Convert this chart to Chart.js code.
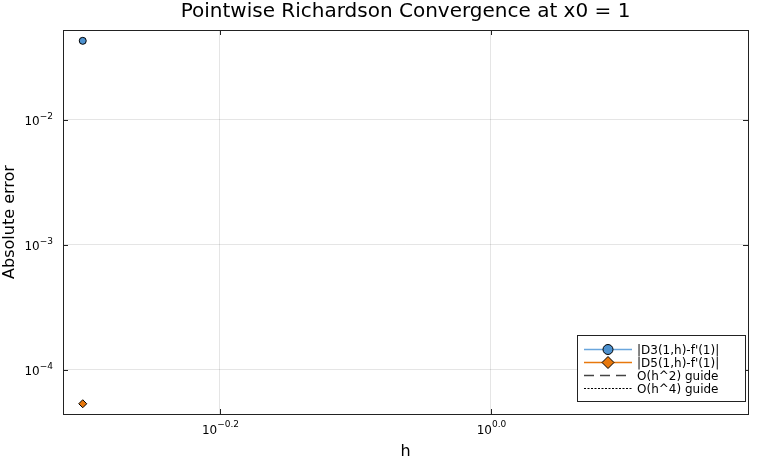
<!DOCTYPE html>
<html>
<head>
<meta charset="utf-8">
<script src="https://cdn.jsdelivr.net/npm/chart.js@4.4.1/dist/chart.umd.min.js"></script>
<style>
  html, body { margin: 0; padding: 0; background: #fff; }
  #wrap { width: 760px; height: 460px; }
</style>
</head>
<body>
<div id="wrap"><canvas id="c" width="760" height="460"></canvas></div>
<script>
// 數據
const hValues = [0.5];
const errD3 = [0.0426];
const errD5 = [5.35e-5];
const guide2 = [];   // O(h^2) 參考線（圖中看不到）
const guide4 = [];   // O(h^4) 參考線

const seriesNames = ["|D3(1,h)-f'(1)|", "|D5(1,h)-f'(1)|", 'O(h^2) guide', 'O(h^4) guide'];

// 刻度
const xTickExps = [-0.2, 0.0];
const xTickLabels = ['-0.2', '0.0'];
const yTickExps = [-2, -3, -4];
const yTickLabels = ['-2', '-3', '-4'];

const xRange = [0.4835, 1.549];
const yRange = [4.43e-5, 0.052];

const FONT = "'DejaVu Sans', sans-serif";
const BLUE = '#4d91cf';
const BLUE_LINE = '#6aa6dd';
const ORANGE = '#e8780c';

function toPoints(xs, ys) {
    return ys.map((y, i) => ({ x: xs[i], y: y }));
}

// 畫 10^n 的標籤
function drawPow(ctx, exp, x, y, align) {
    ctx.font = '12px ' + FONT;
    const base = '10';
    const wb = ctx.measureText(base).width;
    ctx.font = '9px ' + FONT;
    const sup = exp.replace('-', '\u2212');
    const ws = ctx.measureText(sup).width;
    let left = x;
    if (align === 'right') left = x - wb - ws;
    if (align === 'center') left = x - (wb + ws) / 2;
    ctx.textAlign = 'left';
    ctx.textBaseline = 'middle';
    ctx.font = '12px ' + FONT;
    ctx.fillText(base, left, y);
    ctx.font = '9px ' + FONT;
    ctx.fillText(sup, left + wb, y - 5.5);
}

const decorPlugin = {
    id: 'decor',
    afterDraw(chart) {
        const ctx = chart.ctx;
        const a = chart.chartArea;
        const xs = chart.scales.x, ys = chart.scales.y;
        ctx.save();
        ctx.fillStyle = '#000';

        // 外框
        ctx.strokeStyle = '#222';
        ctx.lineWidth = 1;
        ctx.strokeRect(Math.round(a.left) + 0.5, Math.round(a.top) + 0.5,
            Math.round(a.right - a.left), Math.round(a.bottom - a.top));

        // 刻度線 + 標籤
        xTickExps.forEach((e, i) => {
            const px = Math.round(xs.getPixelForValue(Math.pow(10, e))) + 0.5;
            ctx.beginPath();
            ctx.moveTo(px, a.bottom); ctx.lineTo(px, a.bottom - 5);
            ctx.moveTo(px, a.top); ctx.lineTo(px, a.top + 5);
            ctx.stroke();
            drawPow(ctx, xTickLabels[i], px, a.bottom + 16.5, 'center');
        });
        yTickExps.forEach((e, i) => {
            const py = Math.round(ys.getPixelForValue(Math.pow(10, e))) + 0.5;
            ctx.beginPath();
            ctx.moveTo(a.left, py); ctx.lineTo(a.left + 5, py);
            ctx.moveTo(a.right, py); ctx.lineTo(a.right - 5, py);
            ctx.stroke();
            drawPow(ctx, yTickLabels[i], a.left - 10, py + 1.5, 'right');
        });

        // 標題與軸名
        ctx.textAlign = 'center';
        ctx.textBaseline = 'middle';
        ctx.font = '20px ' + FONT;
        ctx.fillText('Pointwise Richardson Convergence at x0 = 1', (a.left + a.right) / 2, 12);
        ctx.font = '16px ' + FONT;
        ctx.fillText('h', (a.left + a.right) / 2, 452);
        ctx.save();
        ctx.translate(10, (a.top + a.bottom) / 2);
        ctx.rotate(-Math.PI / 2);
        ctx.fillText('Absolute error', 0, 0);
        ctx.restore();

        // 圖例
        const lx = 577.5, ly = 335.5, lw = 168, lh = 66;
        ctx.fillStyle = '#fff';
        ctx.fillRect(lx, ly, lw, lh);
        ctx.strokeStyle = '#222';
        ctx.strokeRect(lx, ly, lw, lh);
        const rows = [349.5, 362.5, 375.5, 388.5];
        chart.data.datasets.forEach((ds, i) => {
            const y = rows[i];
            ctx.save();
            ctx.strokeStyle = ds.borderColor;
            ctx.lineWidth = ds.borderWidth;
            ctx.setLineDash(ds.borderDash || []);
            ctx.beginPath();
            ctx.moveTo(584, y); ctx.lineTo(632, y);
            ctx.stroke();
            ctx.restore();
            if (ds.pointRadius) {
                ctx.save();
                ctx.fillStyle = ds.pointBackgroundColor;
                ctx.strokeStyle = '#000';
                ctx.lineWidth = 1;
                ctx.beginPath();
                if (ds.pointStyle === 'rectRot') {
                    const r = 6;
                    ctx.moveTo(608, y - r); ctx.lineTo(608 + r, y);
                    ctx.lineTo(608, y + r); ctx.lineTo(608 - r, y);
                    ctx.closePath();
                } else {
                    ctx.arc(608, y, 5, 0, Math.PI * 2);
                }
                ctx.fill(); ctx.stroke();
                ctx.restore();
            }
            ctx.fillStyle = '#000';
            ctx.font = '12px ' + FONT;
            ctx.textAlign = 'left';
            ctx.fillText(ds.label, 637, y + 1);
        });
        ctx.restore();
    }
};

new Chart(document.getElementById('c'), {
    type: 'line',
    data: {
        datasets: [
            {
                label: seriesNames[0],
                data: toPoints(hValues, errD3),
                borderColor: BLUE_LINE,
                backgroundColor: BLUE,
                pointBackgroundColor: BLUE,
                pointBorderColor: '#000',
                pointBorderWidth: 1,
                pointRadius: 3.5,
                pointStyle: 'circle',
                borderWidth: 1.5
            },
            {
                label: seriesNames[1],
                data: toPoints(hValues, errD5),
                borderColor: ORANGE,
                backgroundColor: ORANGE,
                pointBackgroundColor: ORANGE,
                pointBorderColor: '#000',
                pointBorderWidth: 1,
                pointRadius: 4,
                pointStyle: 'rectRot',
                borderWidth: 1.5
            },
            {
                label: seriesNames[2],
                data: toPoints(hValues, guide2),
                borderColor: '#444',
                borderDash: [10, 6],
                pointRadius: 0,
                borderWidth: 1.5
            },
            {
                label: seriesNames[3],
                data: toPoints(hValues, guide4),
                borderColor: '#000',
                borderDash: [2, 1.5],
                pointRadius: 0,
                borderWidth: 1
            }
        ]
    },
    options: {
        responsive: false,
        animation: false,
        layout: { padding: { left: 63, top: 30, right: 12, bottom: 46 } },
        plugins: {
            legend: { display: false },
            title: { display: false },
            tooltip: { enabled: false }
        },
        scales: {
            x: {
                type: 'logarithmic',
                min: xRange[0],
                max: xRange[1],
                afterBuildTicks(scale) {
                    scale.ticks = xTickExps.map(e => ({ value: Math.pow(10, e) }));
                },
                ticks: { display: false },
                grid: { color: 'rgba(0,0,0,0.1)', drawTicks: false },
                border: { display: false }
            },
            y: {
                type: 'logarithmic',
                min: yRange[0],
                max: yRange[1],
                afterBuildTicks(scale) {
                    scale.ticks = yTickExps.map(e => ({ value: Math.pow(10, e) }));
                },
                ticks: { display: false },
                grid: { color: 'rgba(0,0,0,0.1)', drawTicks: false },
                border: { display: false }
            }
        }
    },
    plugins: [decorPlugin]
});
</script>
</body>
</html>
